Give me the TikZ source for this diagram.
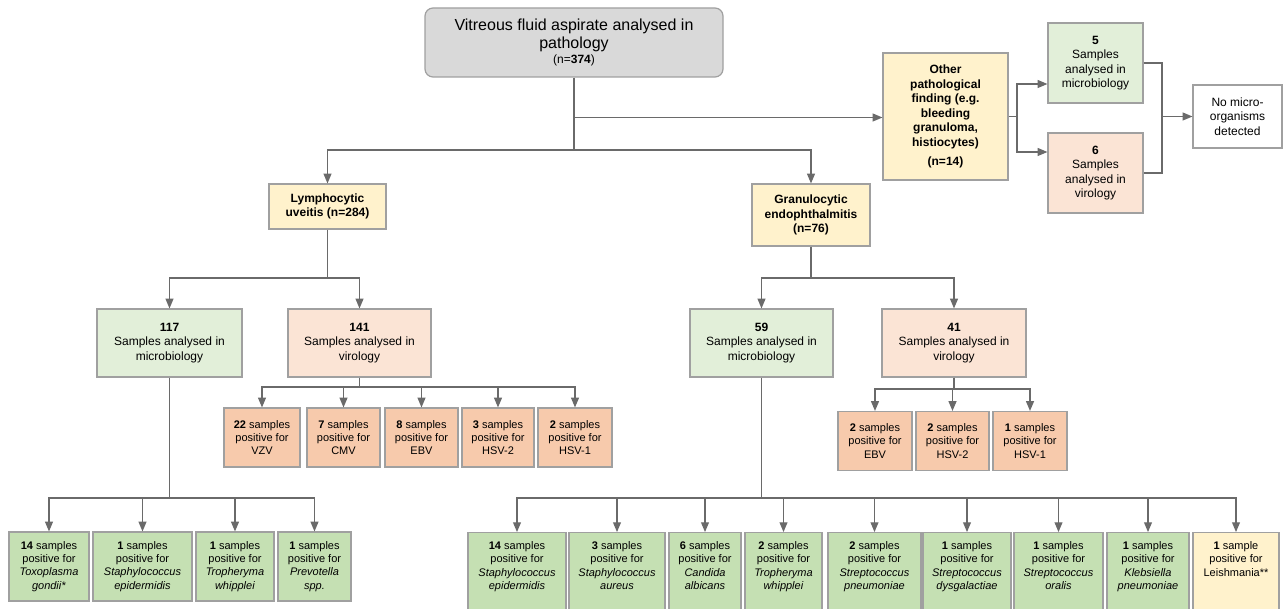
\documentclass[tikz,border=0pt]{standalone}
\usepackage{fontspec}
\setmainfont{Liberation Sans}
\usetikzlibrary{arrows}

\definecolor{edgegray}{HTML}{A0A0A0}
\definecolor{linegray}{HTML}{6A6A6A}
\definecolor{topgray}{HTML}{D9D9D9}
\definecolor{findyellow}{HTML}{FFF2CC}
\definecolor{micgreen}{HTML}{E2EFD9}
\definecolor{virpink}{HTML}{FBE4D5}
\definecolor{vressalmon}{HTML}{F7CAAC}
\definecolor{mresgreen}{HTML}{C5E0B3}

\tikzset{
  box/.style={draw=edgegray, line width=1.2pt, align=center, inner sep=2pt,
    font=\fontsize{12}{14.5}\selectfont},
  topbox/.style={box, fill=topgray, rounded corners=8pt, font=\fontsize{16}{19}\selectfont},
  findbox/.style={box, fill=findyellow, font=\bfseries\fontsize{12}{14.5}\selectfont},
  micbox/.style={box, fill=micgreen},
  virbox/.style={box, fill=virpink},
  vresbox/.style={box, fill=vressalmon, minimum height=59, font=\fontsize{11}{13.3}\selectfont},
  mresbox/.style={box, fill=mresgreen, font=\fontsize{11}{13.3}\selectfont},
  line/.style={draw=linegray, line width=1.25pt},
  arr/.style={line, ->, >=triangle 45}
}

\begin{document}
\begin{tikzpicture}[x=1pt,y=-1pt]
\useasboundingbox (0,0) rectangle (1288,609);

% top row
\node[topbox, minimum width=298, minimum height=69] (path) at (574,42.5)
  {Vitreous fluid aspirate analysed in\\[-1pt]
   pathology\\[-4pt]
   {\fontsize{12}{14}\selectfont (n=\textbf{374})}};
\node[findbox, minimum width=125, minimum height=127] (other) at (945.5,116.5)
  {Other\\pathological\\finding (e.g.\\bleeding\\granuloma,\\histiocytes)\\[5pt](n=14)};
\node[micbox, minimum width=95, minimum height=80] (mic5) at (1095.5,63)
  {\textbf{5}\\Samples\\analysed in\\microbiology};
\node[virbox, minimum width=95, minimum height=80] (vir6) at (1095.5,173)
  {\textbf{6}\\Samples\\analysed in\\virology};
\node[box, fill=white, minimum width=89, minimum height=63] (nomo) at (1237.5,116.5)
  {No micro-\\organisms\\detected};

% diagnoses
\node[findbox, minimum width=117, minimum height=45] (lymph) at (327.5,206.5)
  {Lymphocytic\\uveitis (n=284)};
\node[findbox, minimum width=118, minimum height=62] (granu) at (811,215)
  {Granulocytic\\endophthalmitis\\(n=76)};

% analyses
\node[micbox, minimum width=145, minimum height=68] (mic117) at (169.5,343)
  {\textbf{117}\\Samples analysed in\\microbiology};
\node[virbox, minimum width=143, minimum height=68] (vir141) at (359.5,343)
  {\textbf{141}\\Samples analysed in\\virology};
\node[micbox, minimum width=143, minimum height=68] (mic59) at (761.5,343)
  {\textbf{59}\\Samples analysed in\\microbiology};
\node[virbox, minimum width=144, minimum height=68] (vir41) at (954,343)
  {\textbf{41}\\Samples analysed in\\virology};

% virology results
\foreach \n/\x/\w/\lbl in {vzv/262/76/{\textbf{22} samples\\positive for\\VZV},
    cmv/343.5/73/{\textbf{7} samples\\positive for\\CMV},
    ebvl/421.5/73/{\textbf{8} samples\\positive for\\EBV},
    hsvtwol/498/72/{\textbf{3} samples\\positive for\\HSV-2},
    hsvonel/575/74/{\textbf{2} samples\\positive for\\HSV-1}}
  \node[vresbox, minimum width=\w] (\n) at (\x,437.5) {\lbl};
\foreach \n/\x/\w/\lbl in {ebvg/875/74/{\textbf{2} samples\\positive for\\EBV},
    hsvtwog/952.5/73/{\textbf{2} samples\\positive for\\HSV-2},
    hsvoneg/1030/74/{\textbf{1} samples\\positive for\\HSV-1}}
  \node[vresbox, minimum width=\w] (\n) at (\x,441) {\lbl};

% microbiology results
\foreach \n/\x/\w/\lbl in {toxo/49/80/{\textbf{14} samples\\positive for\\\textit{Toxoplasma}\\\textit{gondii*}},
    stepil/142.5/99/{\textbf{1} samples\\positive for\\\textit{Staphylococcus}\\\textit{epidermidis}},
    trophl/235/78/{\textbf{1} samples\\positive for\\\textit{Tropheryma}\\\textit{whipplei}},
    prevo/314.5/73/{\textbf{1} samples\\positive for\\\textit{Prevotella}\\\textit{spp.}}}
  \node[mresbox, minimum width=\w, minimum height=69] (\n) at (\x,566.5) {\lbl};
\foreach \n/\x/\w/\lbl in {stepig/517/98/{\textbf{14} samples\\positive for\\\textit{Staphylococcus}\\\textit{epidermidis}},
    saur/617/96/{\textbf{3} samples\\positive for\\\textit{Staphylococcus}\\\textit{aureus}},
    calb/705/72/{\textbf{6} samples\\positive for\\\textit{Candida}\\\textit{albicans}},
    trophg/783.5/77/{\textbf{2} samples\\positive for\\\textit{Tropheryma}\\\textit{whipplei}},
    spneu/874.5/93/{\textbf{2} samples\\positive for\\\textit{Streptococcus}\\\textit{pneumoniae}},
    sdys/967/88/{\textbf{1} samples\\positive for\\\textit{Streptococcus}\\\textit{dysgalactiae}},
    sora/1058.5/89/{\textbf{1} samples\\positive for\\\textit{Streptococcus}\\\textit{oralis}},
    kpneu/1148/82/{\textbf{1} samples\\positive for\\\textit{Klebsiella}\\\textit{pneumoniae}}}
  \node[mresbox, minimum width=\w, anchor=north, inner ysep=9pt] (\n) at (\x,532) {\lbl\\ \strut};
\node[box, fill=findyellow, font=\fontsize{11}{13.3}\selectfont, minimum width=86,
  anchor=north, inner ysep=9pt] (leish) at (1236,532)
  {\textbf{1} sample\\positive for\\Leishmania**\\ \strut\\ \strut};

% connectors
\coordinate (c0) at (574,117.5);
\coordinate (c1) at (574,150);
\draw[line] (path.south) -- (c1);
\draw[arr] (c0) -- (other.west |- c0);
\draw[arr] (c1) -| (lymph.north);
\draw[arr] (c1) -| (granu.north);

\coordinate (c2) at (327.5,278);
\draw[line] (lymph.south) -- (c2);
\draw[arr] (c2) -| (mic117.north);
\draw[arr] (c2) -| (vir141.north);

\coordinate (c3) at (359.5,387);
\draw[line] (vir141.south) -- (c3);
\foreach \n in {vzv,cmv,ebvl,hsvtwol,hsvonel}
  \draw[arr] (c3) -| (\n.north);

\coordinate (c4) at (169.5,498);
\draw[line] (mic117.south) -- (c4);
\foreach \n in {toxo,stepil,trophl,prevo}
  \draw[arr] (c4) -| (\n.north);

\coordinate (c5) at (811,278);
\draw[line] (granu.south) -- (c5);
\draw[arr] (c5) -| (mic59.north);
\draw[arr] (c5) -| (vir41.north);

\coordinate (c6) at (954,389);
\draw[line] (vir41.south) -- (c6);
\foreach \n in {ebvg,hsvtwog,hsvoneg}
  \draw[arr] (c6) -| (\n.north);

\coordinate (c7) at (761.5,498);
\draw[line] (mic59.south) -- (c7);
\foreach \n in {stepig,saur,calb,trophg,spneu,sdys,sora,kpneu,leish}
  \draw[arr] (c7) -| (\n.north);

\coordinate (c8) at (1017,116.5);
\draw[line] (other.east) -- (c8);
\draw[arr] (c8) |- ([yshift=-21pt]mic5.west);
\draw[arr] (c8) |- ([yshift=21pt]vir6.west);

\coordinate (c9) at (1162,116.5);
\draw[line] (mic5.east) -| (c9) |- (vir6.east);
\draw[arr] (c9) -- (nomo.west);
\end{tikzpicture}
\end{document}
